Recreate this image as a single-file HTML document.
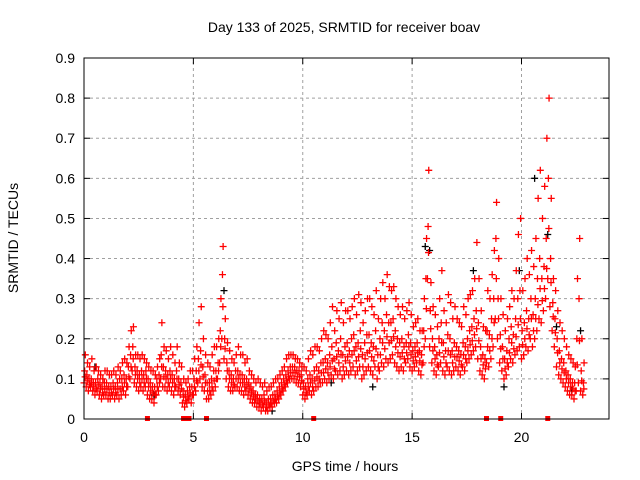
<!DOCTYPE html>
<html><head><meta charset="utf-8"><style>
body{margin:0;background:#fff;}
svg{display:block;font-family:"Liberation Sans",sans-serif;}
</style></head><body>
<svg id="chart" width="640" height="480">
<text x="344" y="32" text-anchor="middle" font-size="14">Day 133 of 2025, SRMTID for receiver boav</text>
<text x="0" y="0" transform="translate(18,238) rotate(-90)" text-anchor="middle" font-size="14">SRMTID / TECUs</text>
<text x="345" y="471" text-anchor="middle" font-size="14">GPS time / hours</text>
<g id="grid"></g><g id="axes"></g><g id="marks"></g>
<rect x="84" y="58" width="525" height="361" fill="none" stroke="#000" stroke-width="1"/>
</svg>
<script>
const xTicks=[0,5,10,15,20];
const yTicks=[0,0.1,0.2,0.3,0.4,0.5,0.6,0.7,0.8,0.9];
const yTickLabels=["0","0.1","0.2","0.3","0.4","0.5","0.6","0.7","0.8","0.9"];
const redLo=[.09,.08,.07,.08,.07,.06,.07,.06,.05,.06, .06,.05,.05,.06,.05,.06,.05,.06,.07,.06, .08,.10,.12,.09,.08,.07,.08,.07,.08,.06, .05,.05,.04,.06,.07,.10,.08,.08,.07,.08, .07,.06,.08,.07,.06,.04,.03,.04,.05,.04, .06,.07,.09,.10,.08,.07,.05,.05,.06,.07, .08,.10,.14,.20,.15,.10,.08,.07,.07,.08, .08,.07,.07,.06,.07,.06,.05,.04,.04,.03, .03,.02,.03,.02,.02,.03,.03,.04,.04,.05, .06,.07,.08,.09,.10,.10,.10,.09,.09,.08, .06,.05,.06,.07,.06,.07,.08,.08,.09,.09, .10,.09,.10,.11,.10,.12,.11,.12,.10,.11, .12,.11,.12,.13,.11,.12,.13,.10,.11,.12, .13,.12,.11,.13,.10,.12,.14,.13,.15,.14, .15,.16,.14,.13,.12,.13,.12,.14,.15,.13, .12,.13,.14,.12,.11,.14,.20,.35,.18,.14, .12,.11,.13,.14,.12,.11,.13,.12,.11,.12, .13,.12,.11,.13,.12,.14,.15,.16,.17,.18, .15,.12,.11,.10,.14,.13,.15,.18,.25,.20, .14,.12,.10,.11,.13,.15,.14,.16,.17,.18, .15,.16,.18,.17,.20,.18,.20,.22,.25,.24, .27,.30,.35,.28,.22,.18,.13,.11,.10,.09, .08,.07,.06,.06,.05,.07,.09,.07,.06];
const redMid=[.12,.11,.10,.10,.09,.09,.10,.09,.08,.09, .09,.08,.08,.09,.08,.09,.10,.10,.11,.10, .13,.16,.18,.13,.12,.11,.12,.11,.12,.10, .09,.08,.08,.10,.11,.16,.13,.12,.11,.12, .11,.10,.12,.10,.09,.07,.06,.07,.08,.08, .10,.12,.15,.17,.13,.11,.09,.09,.10,.12, .12,.14,.22,.36,.20,.14,.12,.11,.10,.12, .12,.11,.11,.10,.10,.09,.08,.07,.06,.06, .05,.05,.06,.04,.05,.05,.06,.06,.07,.08, .09,.10,.11,.12,.13,.13,.13,.12,.12,.11, .09,.08,.10,.11,.10,.12,.13,.12,.14,.14, .15,.14,.16,.18,.15,.19,.17,.20,.16,.18, .19,.17,.20,.21,.18,.19,.22,.16,.19,.21, .21,.19,.18,.22,.16,.20,.24,.22,.26,.24, .24,.25,.22,.20,.19,.20,.18,.19,.21,.19, .17,.18,.19,.17,.16,.22,.35,.48,.27,.20, .18,.16,.20,.24,.19,.17,.21,.20,.17,.19, .18,.17,.16,.19,.18,.20,.22,.23,.25,.27, .24,.18,.16,.15,.22,.21,.25,.30,.45,.30, .21,.18,.15,.17,.20,.23,.21,.25,.30,.32, .22,.24,.27,.25,.30,.26,.30,.35,.40,.35, .38,.45,.60,.40,.29,.25,.20,.17,.15,.14, .12,.11,.10,.09,.09,.20,.30,.12,.09];
const redHi=[.16,.14,.13,.15,.12,.13,.12,.11,.10,.12, .12,.11,.11,.12,.11,.13,.12,.14,.15,.14, .18,.22,.23,.16,.16,.15,.16,.15,.14,.13, .12,.12,.11,.13,.15,.24,.18,.17,.15,.18, .16,.14,.18,.14,.13,.10,.09,.10,.12,.12, .15,.18,.24,.28,.20,.16,.14,.13,.16,.18, .18,.20,.30,.43,.25,.19,.17,.15,.14,.16, .18,.16,.16,.14,.15,.12,.11,.10,.09,.10, .09,.08,.09,.07,.08,.08,.09,.10,.10,.11, .12,.13,.15,.16,.16,.16,.15,.15,.14,.13, .13,.12,.15,.17,.16,.18,.18,.17,.20,.22, .21,.20,.24,.28,.22,.27,.25,.29,.24,.27, .27,.25,.28,.30,.26,.31,.29,.24,.27,.30, .30,.28,.26,.32,.25,.30,.34,.30,.36,.33, .32,.33,.30,.28,.26,.28,.25,.27,.29,.26, .23,.24,.25,.22,.22,.30,.45,.62,.34,.28, .26,.23,.30,.37,.27,.24,.31,.29,.25,.28, .25,.24,.23,.28,.26,.30,.31,.32,.35,.44, .35,.27,.23,.22,.32,.30,.36,.42,.54,.40, .30,.26,.22,.25,.28,.32,.30,.37,.46,.50, .32,.35,.40,.36,.42,.38,.45,.55,.62,.50, .58,.70,.80,.55,.35,.32,.27,.24,.22,.20, .18,.16,.15,.14,.13,.35,.45,.20,.14];
const blackTimes=[0.5,3.2,6.4,8.6,11.3,13.2,15.6,15.8,17.8,19.2,19.9,20.6,21.2,21.6,22.3,22.7];
const blackValues=[0.13,0.06,0.32,0.02,0.09,0.08,0.43,0.42,0.37,0.08,0.37,0.60,0.46,0.23,0.07,0.22];
const gapTimes=[2.9,4.55,4.7,4.8,5.6,10.5,18.4,19.05,21.2];

const X0=84,X1=609,Y0=419,Y1=58,XMAX=24,YMAX=0.9;
const xs=t=>X0+(X1-X0)*t/XMAX;
const ys=v=>Y0-(Y0-Y1)*v/YMAX;
const NS="http://www.w3.org/2000/svg";
const grid=document.getElementById('grid'),axes=document.getElementById('axes'),marks=document.getElementById('marks');
function mk(tag,attrs,parent){const e=document.createElementNS(NS,tag);for(const k in attrs)e.setAttribute(k,attrs[k]);parent.appendChild(e);return e;}
yTicks.forEach((v,i)=>{
  const y=ys(v);
  if(i>0&&i<yTicks.length-1){const g=mk('line',{x1:X0,x2:X1,y1:y,y2:y,stroke:'#a0a0a0','stroke-dasharray':'3,3'},grid);
  
  }
  mk('line',{x1:X0,x2:X0+6,y1:y,y2:y,stroke:'#000'},axes);
  mk('line',{x1:X1,x2:X1-6,y1:y,y2:y,stroke:'#000'},axes);
  const t=mk('text',{x:X0-9,y:y+5,'text-anchor':'end','font-size':'14'},axes);
  t.textContent=yTickLabels[i];
  
  
});
xTicks.forEach((v,i)=>{
  const x=xs(v);
  if(i>0){const g=mk('line',{x1:x,x2:x,y1:Y0,y2:Y1,stroke:'#a0a0a0','stroke-dasharray':'3,3'},grid);
  
  }
  mk('line',{x1:x,x2:x,y1:Y0,y2:Y0-6,stroke:'#000'},axes);
  mk('line',{x1:x,x2:x,y1:Y1,y2:Y1+6,stroke:'#000'},axes);
  const t=mk('text',{x:x,y:Y0+23,'text-anchor':'middle','font-size':'14'},axes);
  t.textContent=String(v);
  
  
});
function plus(t,v,color,name){
  const x=xs(t),y=ys(v);
  const p=mk('path',{d:`M${x-3.5},${y}h7M${x},${y-3.5}v7`,stroke:color,'stroke-width':'1.3',fill:'none'},marks);
  
  
}
blackTimes.forEach((t,i)=>plus(t,blackValues[i],'#000','black-point'));
redLo.forEach((v,i)=>{
  const t=i*0.1;
  plus(t,v,'#f00','red-point-low');
  plus(t+0.03,redMid[i],'#f00','red-point-mid');
  plus(t+0.06,redHi[i],'#f00','red-point-high');
  plus(t+0.05,(v+redMid[i])/2,'#f00','red-point');
});
gapTimes.forEach(t=>{
  const r=mk('rect',{x:xs(t)-2.5,y:Y0-3,width:5,height:5,fill:'#f00'},marks);
  
  
});
</script>
</body></html>
